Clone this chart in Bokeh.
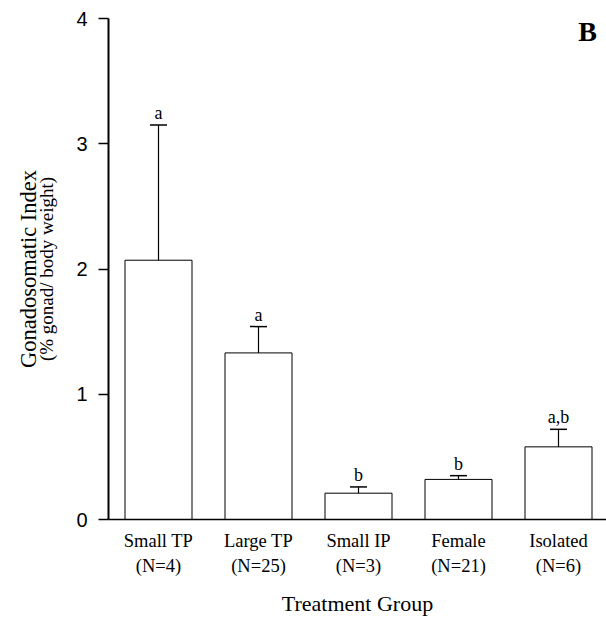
from bokeh.plotting import figure
from bokeh.models import (Range1d, FixedTicker, LinearAxis, Label)
from bokeh.core.properties import value
from bokeh.embed import file_html
from bokeh.resources import INLINE

groups = ["Small TP", "Large TP", "Small IP", "Female", "Isolated"]
n_labels = ["(N=4)", "(N=25)", "(N=3)", "(N=21)", "(N=6)"]
means = [2.07, 1.33, 0.21, 0.32, 0.58]
err_tops = [3.15, 1.54, 0.26, 0.35, 0.72]
letters = ["a", "a", "b", "b", "a,b"]
y_ticks = [0, 1, 2, 3, 4]

xs = list(range(len(groups)))
SERIF = "Liberation Serif"
SANS = "Liberation Sans"

p = figure(width=606, height=620, output_backend="svg", toolbar_location=None,
           x_range=Range1d(-0.5, 4.48), y_range=Range1d(0, 4),
           min_border_left=108, min_border_right=0, min_border_top=18,
           min_border_bottom=101, x_axis_location=None, y_axis_location=None)
p.outline_line_color = None
p.grid.visible = False
p.background_fill_color = "white"
p.border_fill_color = "white"

p.vbar(x=xs, top=means, width=0.67, bottom=0, fill_color="white",
       line_color="black", line_width=1)
p.segment(x0=xs, y0=means, x1=xs, y1=err_tops, line_color="black", line_width=1.2)
p.segment(x0=[x - 0.085 for x in xs], y0=err_tops, x1=[x + 0.085 for x in xs],
          y1=err_tops, line_color="black", line_width=1.5)
p.text(x=xs, y=err_tops, text=letters, text_align="center",
       text_baseline="alphabetic", y_offset=-12, text_font=value(SERIF),
       text_font_size="18px", text_color="black")

# Y axis (ticks + small second title line)
yax = LinearAxis(ticker=FixedTicker(ticks=y_ticks))
yax.major_tick_in = 0
yax.major_tick_out = 10
yax.minor_tick_line_color = None
yax.major_label_text_font = SANS
yax.major_label_text_font_size = "20px"
yax.major_label_text_color = "black"
yax.major_label_standoff = 11
yax.axis_line_color = "black"
yax.axis_line_width = 2
yax.major_tick_line_width = 1.3
yax.axis_label = "(% gonad/ body weight)"
yax.axis_label_text_font = SERIF
yax.axis_label_text_font_size = "19px"
yax.axis_label_text_font_style = "normal"
yax.axis_label_text_color = "black"
yax.axis_label_standoff = 16
p.add_layout(yax, "left")

# Outer y title line
yax2 = LinearAxis(ticker=FixedTicker(ticks=[]))
yax2.axis_line_color = None
yax2.major_tick_line_color = None
yax2.minor_tick_line_color = None
yax2.major_label_text_font_size = "0px"
yax2.axis_label = "Gonadosomatic Index"
yax2.axis_label_text_font = SERIF
yax2.axis_label_text_font_size = "22.5px"
yax2.axis_label_text_font_style = "normal"
yax2.axis_label_text_color = "black"
yax2.axis_label_standoff = -7
p.add_layout(yax2, "left")

# X axis, first line
xax1 = LinearAxis(ticker=FixedTicker(ticks=xs))
xax1.major_label_overrides = {i: g for i, g in enumerate(groups)}
xax1.major_tick_line_color = None
xax1.minor_tick_line_color = None
xax1.major_tick_in = 0
xax1.major_tick_out = 0
xax1.major_label_standoff = 11
xax1.major_label_text_font = SERIF
xax1.major_label_text_font_size = "18.5px"
xax1.major_label_text_color = "black"
xax1.axis_line_color = "black"
xax1.axis_line_width = 1.5
p.add_layout(xax1, "below")

# X axis, second line
xax2 = LinearAxis(ticker=FixedTicker(ticks=xs))
xax2.major_label_overrides = {i: n for i, n in enumerate(n_labels)}
xax2.major_tick_line_color = None
xax2.minor_tick_line_color = None
xax2.major_tick_in = 0
xax2.major_tick_out = 0
xax2.major_label_standoff = 2
xax2.major_label_text_font = SERIF
xax2.major_label_text_font_size = "18.5px"
xax2.major_label_text_color = "black"
xax2.axis_line_color = None
xax2.axis_label = "Treatment Group"
xax2.axis_label_text_font = SERIF
xax2.axis_label_text_font_size = "22px"
xax2.axis_label_text_font_style = "normal"
xax2.axis_label_text_color = "black"
xax2.axis_label_standoff = 12
p.add_layout(xax2, "below")

# Panel letter
p.add_layout(Label(x=4.29, y=3.9, text="B", text_align="center",
                   text_baseline="middle", text_font=SERIF,
                   text_font_size="28px", text_font_style="bold",
                   text_color="black"))

open("out.html", "w").write(file_html(p, INLINE))
